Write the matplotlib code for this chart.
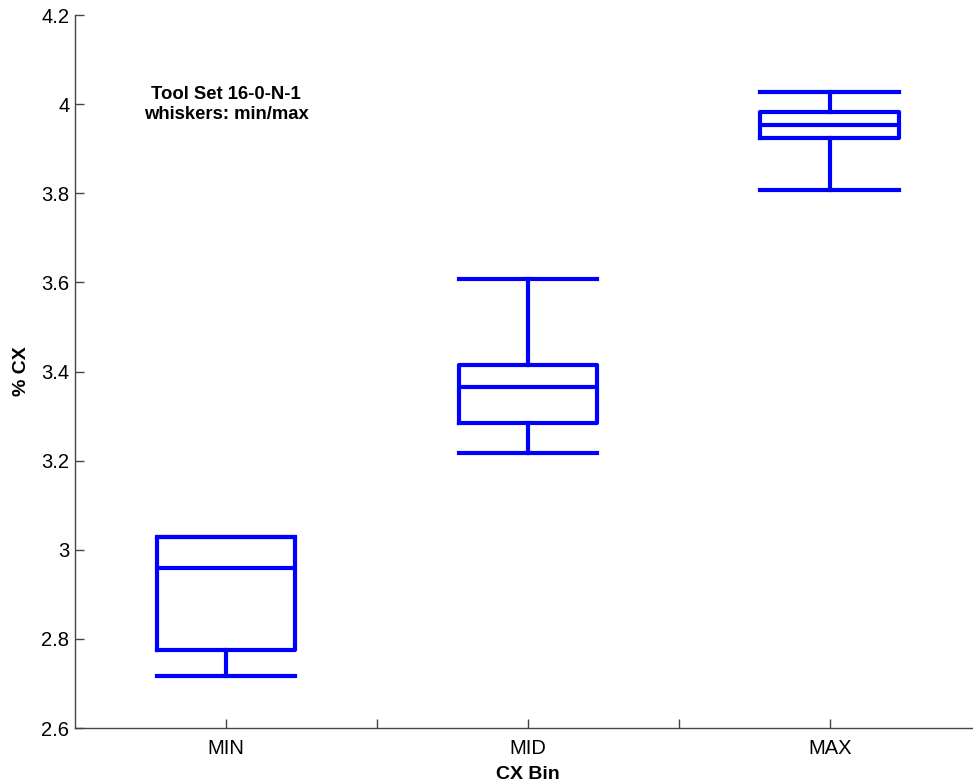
import matplotlib
matplotlib.use("Agg")
import matplotlib.pyplot as plt

plt.rcParams['font.family'] = ['Liberation Sans', 'DejaVu Sans']

# Box summary per CX bin (whiskers span min/max)
categories = ["MIN", "MID", "MAX"]
mins = [2.717, 3.218, 3.807]
q1s = [2.775, 3.284, 3.925]
medians = [2.960, 3.366, 3.953]
q3s = [3.029, 3.415, 3.983]
maxs = [3.029, 3.608, 4.027]

stats = [
    dict(label=c, whislo=lo, q1=a, med=m, q3=b, whishi=hi, fliers=[])
    for c, lo, a, m, b, hi in zip(categories, mins, q1s, medians, q3s, maxs)
]

fig = plt.figure(figsize=(9.73, 7.83), dpi=100)
ax = fig.add_axes([0.0771, 0.0702, 0.931, 0.9106])

blue = "#0000ff"
lw = 3.0
ax.bxp(stats, positions=[1, 2, 3], widths=0.46, capwidths=0.46,
       showfliers=False,
       boxprops=dict(color=blue, linewidth=lw),
       medianprops=dict(color=blue, linewidth=lw),
       whiskerprops=dict(color=blue, linewidth=lw),
       capprops=dict(color=blue, linewidth=lw))

ax.set_xlim(0.5, 3.5)
ax.set_ylim(2.6, 4.2)
ax.set_xticks([1, 1.5, 2, 2.5, 3])
ax.set_xticklabels(["MIN", "", "MID", "", "MAX"])
ax.set_yticks([2.6, 2.8, 3.0, 3.2, 3.4, 3.6, 3.8, 4.0, 4.2])
ax.set_yticklabels(["2.6", "2.8", "3", "3.2", "3.4", "3.6", "3.8", "4", "4.2"])

for s in ("top", "right"):
    ax.spines[s].set_visible(False)
for s in ("left", "bottom"):
    ax.spines[s].set_color("#444444")
    ax.spines[s].set_linewidth(1.0)
ax.tick_params(direction="in", length=6.5, width=1.0, color="#444444",
               labelsize=14.5)
ax.tick_params(axis="y", pad=4)
ax.tick_params(axis="x", pad=8)

ax.set_xlabel("CX Bin", fontsize=14, fontweight="bold", labelpad=6)
ax.set_ylabel("% CX", fontsize=14, fontweight="bold", labelpad=8)

ax.text(1.0, 4.0, "Tool Set 16-0-N-1\nwhiskers: min/max", ha="center",
        va="center", fontsize=13.3, fontweight="bold", linespacing=1.25)

fig.savefig("out.png", dpi=100)
